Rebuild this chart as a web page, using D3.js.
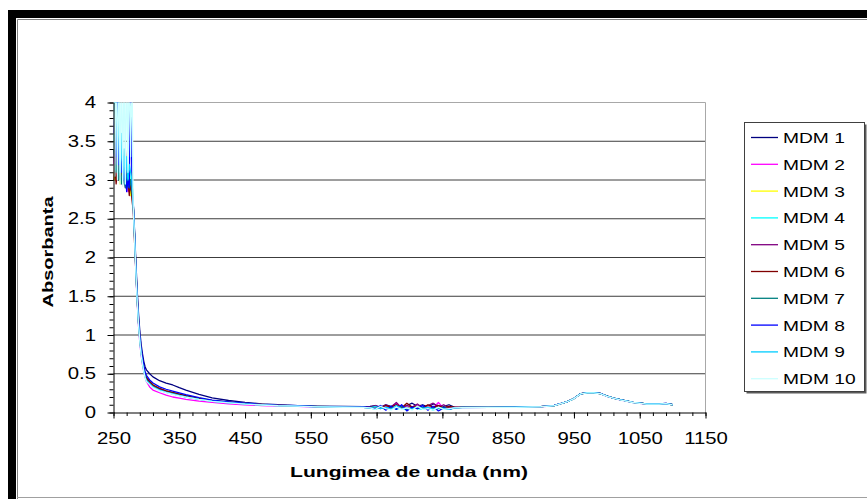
<!DOCTYPE html>
<html>
<head>
<meta charset="utf-8">
<script src="https://cdn.jsdelivr.net/npm/d3@7"></script>
<style>
  body { margin: 0; background: #fff; }
  svg { display: block; font-family: "Liberation Sans", Arial, sans-serif; }
</style>
</head>
<body>
<svg id="chart" width="867" height="499"></svg>
<script>
// Wavelength grid (nm) shared by all spectra
const wavelengths = [
  250,252,254,256,258,260,262,264,266,268,270,272,274,276,278,280,282,284,286,288,290,292,294,296,298,300,
  305,310,320,330,340,350,360,380,400,425,450,475,500,530,560,600,630,
  640,648,656,664,672,680,688,696,704,712,720,728,736,744,752,760,768,
  780,820,860,900,920,940,950,960,970,980,990,1000,1010,1020,1040,1060,1080,1090,1100
];

const seriesNames = ["MDM 1","MDM 2","MDM 3","MDM 4","MDM 5","MDM 6","MDM 7","MDM 8","MDM 9","MDM 10"];
const seriesColors = ["#000080","#ff00ff","#ffff00","#00ffff","#800080","#800000","#008080","#0000ff","#00ccff","#ccffff"];

// Absorbance values per sample
const mdm1 = [3.4,3.2,3.5,3.1,3.3,3.0,3.2,3.1,3.0,3.15,2.95,3.05,2.9,2.95,2.9,2.7,2.35,1.95,1.58,1.28,1.05,0.88,0.76,0.66,0.59,0.55,
  0.5,0.46,0.41,0.38,0.355,0.32,0.29,0.235,0.19,0.155,0.13,0.112,0.1,0.09,0.083,0.078,0.075,
  .08,.09,.07,.1,.08,.11,.07,.09,.12,.08,.1,.07,.11,.09,.08,.1,.07,
  .066,.067,.069,.076,.091,.141,.182,.242,.256,.256,.246,.211,.186,.166,.131,.111,.111,.116,.101];
const mdm2 = [3.2,3.4,3.0,3.3,3.1,3.2,2.95,3.1,3.0,2.9,3.05,2.85,2.9,2.8,2.85,2.65,2.25,1.8,1.42,1.12,0.9,0.74,0.62,0.53,0.46,0.4,
  0.33,0.29,0.255,0.225,0.2,0.185,0.17,0.148,0.13,0.113,0.1,0.09,0.083,0.078,0.07,0.066,0.065,
  .06,.07,.05,.08,.06,.12,.05,.07,.06,.09,.05,.08,.06,.13,.05,.07,.06,
  .064,.065,.067,.074,.089,.139,.179,.239,.254,.254,.244,.209,.184,.164,.129,.109,.109,.114,.099];
const mdm3 = [3.1,3.0,3.2,3.05,3.15,2.95,3.1,3.0,3.05,2.95,3.0,2.9,3.1,2.8,3.1,2.7,2.3,1.88,1.5,1.2,0.98,0.8,0.68,0.58,0.5,0.45,
  0.4,0.36,0.31,0.28,0.26,0.24,0.22,0.185,0.155,0.135,0.118,0.104,0.094,0.086,0.078,0.072,0.07,
  .07,.06,.08,.05,.07,.06,.09,.05,.07,.08,.05,.07,.06,.08,.05,.07,.06,
  .065,.066,.068,.075,.09,.14,.18,.24,.255,.255,.245,.21,.185,.165,.13,.11,.11,.115,.1];
const mdm4 = [3.6,3.3,3.8,3.1,3.5,3.0,3.4,2.95,3.3,3.0,3.2,2.9,3.1,2.95,3.0,2.7,2.3,1.85,1.47,1.17,0.95,0.78,0.66,0.56,0.48,0.43,
  0.38,0.34,0.3,0.27,0.25,0.23,0.21,0.178,0.15,0.13,0.113,0.1,0.09,0.084,0.076,0.07,0.068,
  .06,.04,.07,.05,.08,.04,.06,.03,.07,.05,.04,.06,.03,.07,.04,.05,.06,
  .064,.066,.067,.075,.089,.14,.18,.24,.254,.255,.244,.21,.184,.165,.129,.11,.109,.115,.1];
const mdm5 = [3.3,3.1,3.4,3.0,3.2,3.05,3.1,2.95,3.2,3.0,2.9,3.0,2.85,2.9,2.85,2.68,2.28,1.86,1.48,1.18,0.96,0.79,0.67,0.57,0.49,0.44,
  0.39,0.35,0.305,0.275,0.255,0.235,0.215,0.18,0.152,0.132,0.115,0.102,0.092,0.085,0.077,0.071,0.069,
  .07,.09,.06,.1,.07,.13,.06,.09,.07,.11,.06,.09,.12,.07,.1,.06,.07,
  .065,.066,.068,.075,.09,.14,.181,.241,.255,.255,.245,.21,.185,.165,.13,.11,.11,.115,.1];
const mdm6 = [3.0,3.2,2.95,3.15,3.0,3.1,3.0,3.3,3.0,3.4,2.95,3.0,2.8,3.0,2.75,2.6,2.2,1.82,1.45,1.16,0.95,0.79,0.67,0.57,0.5,0.45,
  0.4,0.355,0.31,0.28,0.258,0.238,0.218,0.183,0.153,0.133,0.116,0.103,0.093,0.086,0.077,0.072,0.07,
  .07,.08,.06,.09,.07,.1,.06,.12,.07,.08,.06,.1,.07,.09,.06,.08,.07,
  .066,.066,.068,.076,.09,.14,.18,.24,.255,.256,.245,.21,.185,.166,.13,.11,.11,.115,.1];
const mdm7 = [3.4,3.2,3.1,3.3,3.0,3.2,2.95,3.1,3.0,2.9,3.05,2.95,2.9,3.0,2.85,2.68,2.27,1.84,1.46,1.16,0.94,0.77,0.65,0.55,0.47,0.42,
  0.37,0.33,0.29,0.262,0.242,0.222,0.203,0.172,0.146,0.127,0.111,0.099,0.089,0.083,0.075,0.07,0.068,
  .06,.05,.07,.04,.06,.05,.08,.04,.06,.05,.07,.04,.06,.05,.07,.04,.06,
  .065,.065,.068,.075,.09,.139,.18,.24,.255,.255,.244,.21,.185,.165,.13,.11,.11,.115,.1];
const mdm8 = [3.6,3.9,3.3,4.5,3.2,3.5,3.1,3.3,3.0,3.2,2.85,3.0,2.9,4.5,3.0,2.72,2.32,1.9,1.52,1.22,1.0,0.83,0.71,0.61,0.53,0.48,
  0.42,0.38,0.33,0.3,0.275,0.252,0.23,0.193,0.16,0.138,0.12,0.106,0.095,0.087,0.079,0.073,0.071,
  .07,.05,.09,.03,.08,.04,.1,.02,.07,.05,.09,.03,.08,.02,.06,.04,.06,
  .066,.067,.069,.076,.091,.141,.181,.241,.256,.256,.246,.211,.186,.166,.131,.111,.111,.116,.101];
const mdm9 = [4.5,3.5,4.5,3.2,4.0,3.1,3.6,3.0,3.4,2.95,3.3,3.0,3.2,3.1,3.0,2.66,2.26,1.83,1.45,1.15,0.93,0.76,0.64,0.54,0.46,0.41,
  0.37,0.33,0.29,0.26,0.24,0.22,0.2,0.17,0.145,0.126,0.11,0.098,0.088,0.082,0.074,0.069,0.067,
  .06,.08,.05,.07,.04,.09,.05,.06,.04,.08,.05,.07,.04,.06,.05,.04,.06,
  .065,.066,.068,.075,.09,.14,.18,.24,.255,.255,.245,.21,.185,.165,.13,.11,.11,.115,.1];
const mdm10 = [4.6,3.05,4.6,3.0,4.6,2.95,4.6,2.92,4.6,2.95,4.6,3.1,4.6,3.3,4.6,2.65,2.25,1.82,1.44,1.14,0.92,0.75,0.63,0.53,0.45,0.4,
  0.36,0.32,0.28,0.255,0.235,0.215,0.197,0.168,0.143,0.124,0.108,0.097,0.087,0.081,0.073,0.068,0.066,
  .06,.04,.08,.05,.03,.07,.04,.06,.03,.08,.04,.05,.03,.07,.04,.05,.06,
  .064,.065,.067,.074,.089,.139,.179,.239,.254,.254,.244,.209,.184,.164,.129,.109,.109,.114,.099];

const seriesValues = [mdm1, mdm2, mdm3, mdm4, mdm5, mdm6, mdm7, mdm8, mdm9, mdm10];

const xTicks = [250,350,450,550,650,750,850,950,1050,1150];
const yTicks = [0,0.5,1,1.5,2,2.5,3,3.5,4];
const yTickLabels = ["0","0.5","1","1.5","2","2.5","3","3.5","4"];

const svg = d3.select("#chart");

// Outer frame: heavy black edge with a thin grey inner rule
svg.append("rect").attr("x", 8).attr("y", 10).attr("width", 870).attr("height", 8).attr("fill", "#000");
svg.append("rect").attr("x", 8).attr("y", 10).attr("width", 8).attr("height", 500).attr("fill", "#000");
svg.append("path").attr("d", "M17.5,499V19.5H867").attr("fill", "none").attr("stroke", "#808080");
svg.append("line").attr("x1", 17).attr("x2", 867).attr("y1", 497.5).attr("y2", 497.5).attr("stroke", "#a0a0a0");

const plot = { left: 113.5, right: 705.5, top: 102.5, bottom: 412.5 };
const x = d3.scaleLinear().domain([250, 1150]).range([plot.left, plot.right]);
const y = d3.scaleLinear().domain([0, 4]).range([plot.bottom, plot.top]);

// Gridlines
svg.append("g").selectAll("line")
  .data(yTicks.filter(v => v > 0 && v < 4))
  .join("line")
  .attr("x1", plot.left).attr("x2", plot.right)
  .attr("y1", d => y(d)).attr("y2", d => y(d))
  .attr("stroke", "#3c3c3c").attr("stroke-width", 1);

// Plot border (top and right)
svg.append("path")
  .attr("d", `M${plot.left},${plot.top}H${plot.right}V${plot.bottom}`)
  .attr("fill", "none").attr("stroke", "#a8a8a8");

// Series lines, clipped to the plot area
svg.append("clipPath").attr("id", "plotClip")
  .append("rect").attr("x", plot.left).attr("y", plot.top)
  .attr("width", plot.right - plot.left).attr("height", plot.bottom - plot.top);

const line = d3.line().x((d, i) => x(wavelengths[i])).y(d => y(d));
svg.append("g").attr("clip-path", "url(#plotClip)")
  .selectAll("path")
  .data(seriesValues)
  .join("path")
  .attr("d", d => line(d))
  .attr("fill", "none")
  .attr("stroke", (d, i) => seriesColors[i])
  .attr("stroke-width", 1.3)
  .attr("stroke-linejoin", "round");

// Stretch text horizontally to the wide typeface look
function stretch(sel, k) {
  sel.each(function () {
    const w = this.getComputedTextLength();
    this.setAttribute("textLength", (w * k).toFixed(1));
    this.setAttribute("lengthAdjust", "spacingAndGlyphs");
  });
}

// Y axis: minor and major ticks
svg.append("g").attr("transform", `translate(${plot.left},0)`)
  .call(d3.axisLeft(y).tickValues(d3.range(0, 4.001, 0.1)).tickSize(4).tickSizeOuter(0).tickFormat(""))
  .call(g => g.select(".domain").remove())
  .call(g => g.selectAll("line").attr("stroke", "#000"));
const yAxis = svg.append("g").attr("transform", `translate(${plot.left},0)`)
  .call(d3.axisLeft(y).tickValues(yTicks).tickSize(6).tickPadding(11.5).tickSizeOuter(0)
    .tickFormat((d, i) => yTickLabels[i]));
yAxis.select(".domain").attr("stroke", "#000");
yAxis.selectAll("text").attr("font-size", 16).attr("fill", "#000")
  .attr("font-family", "'Liberation Sans', Arial, sans-serif");
stretch(yAxis.selectAll("text"), 1.27);

// X axis: minor and major ticks
svg.append("g").attr("transform", `translate(0,${plot.bottom})`)
  .call(d3.axisBottom(x).tickValues(d3.range(250, 1151, 20)).tickSize(3.5).tickSizeOuter(0).tickFormat(""))
  .call(g => g.select(".domain").remove())
  .call(g => g.selectAll("line").attr("stroke", "#000"));
const xAxis = svg.append("g").attr("transform", `translate(0,${plot.bottom})`)
  .call(d3.axisBottom(x).tickValues(xTicks).tickSize(6).tickPadding(14).tickSizeOuter(0)
    .tickFormat(d => String(d)));
xAxis.select(".domain").attr("stroke", "#000");
xAxis.selectAll("text").attr("font-size", 16).attr("fill", "#000")
  .attr("font-family", "'Liberation Sans', Arial, sans-serif");
stretch(xAxis.selectAll("text"), 1.27);

// Axis titles
svg.append("text")
  .attr("transform", "translate(53,252) rotate(-90)")
  .attr("text-anchor", "middle")
  .attr("font-size", 15).attr("font-weight", "bold")
  .attr("textLength", 111).attr("lengthAdjust", "spacingAndGlyphs")
  .text("Absorbanta");
svg.append("text")
  .attr("x", 409).attr("y", 477)
  .attr("text-anchor", "middle")
  .attr("font-size", 15).attr("font-weight", "bold")
  .attr("textLength", 238).attr("lengthAdjust", "spacingAndGlyphs")
  .text("Lungimea de unda (nm)");

// Legend with drop shadow
const lg = { x: 744.5, y: 122.5, w: 120, h: 269 };
svg.append("rect").attr("x", lg.x + 2).attr("y", lg.y + 2).attr("width", lg.w).attr("height", lg.h)
  .attr("fill", "#5a5a5a");
svg.append("rect").attr("x", lg.x).attr("y", lg.y).attr("width", lg.w).attr("height", lg.h)
  .attr("fill", "#fff").attr("stroke", "#404040");
const items = svg.append("g").selectAll("g")
  .data(seriesNames)
  .join("g")
  .attr("transform", (d, i) => `translate(0,${137 + i * 26.8})`);
items.append("line")
  .attr("x1", 751).attr("x2", 778).attr("y1", 0.5).attr("y2", 0.5)
  .attr("stroke", (d, i) => seriesColors[i]).attr("stroke-width", 1.3);
const legendText = items.append("text")
  .attr("x", 783).attr("y", 6)
  .attr("font-size", 15).attr("fill", "#000")
  .text(d => d);
stretch(legendText, 1.28);
</script>
</body>
</html>
